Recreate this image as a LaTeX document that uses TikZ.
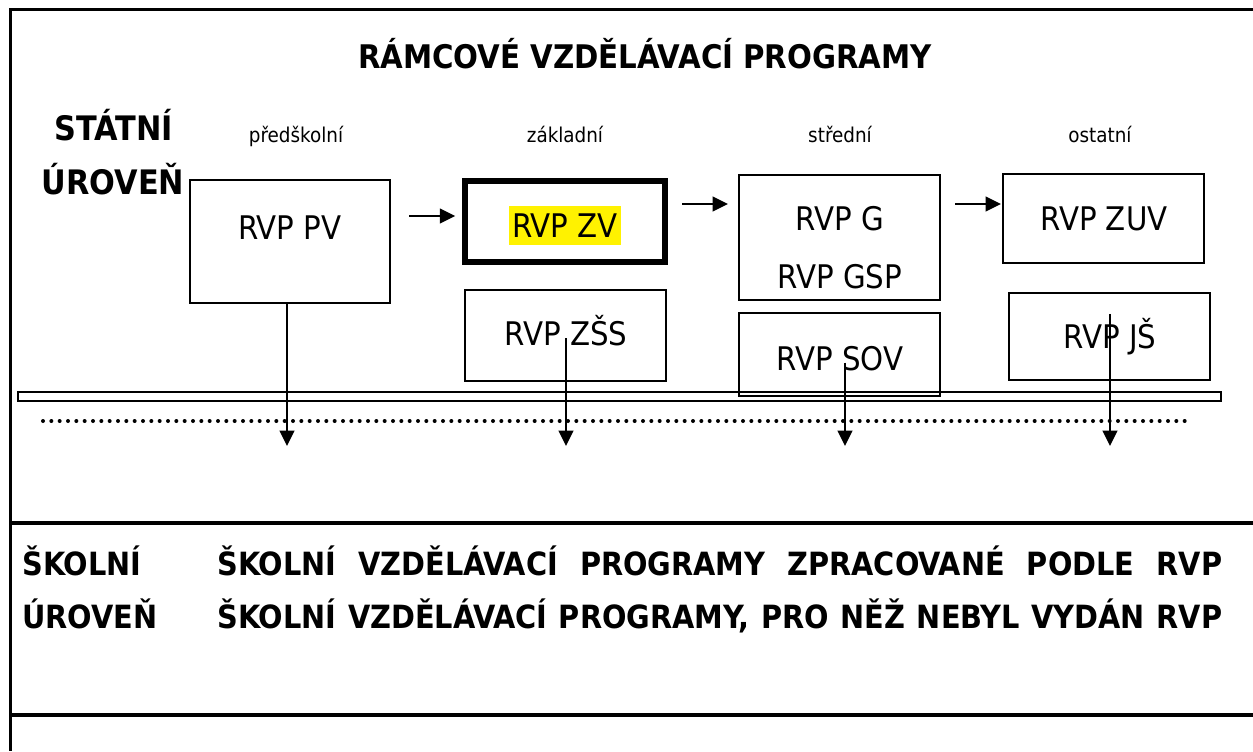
\documentclass[tikz,border=0pt]{standalone}
\usepackage{fontspec}
\setmainfont{DejaVu Sans Condensed}
\usetikzlibrary{arrows.meta}
\begin{document}
\begin{tikzpicture}[x=0.75pt,y=-0.75pt,
  box/.style={draw, line width=1.5pt, inner sep=0pt},
  thickbox/.style={draw, line width=4.1pt, inner sep=0pt},
  txt/.style={inner sep=0pt, text height=17.8pt, text depth=0pt, font=\fontsize{24.4}{28}\selectfont},
  sub/.style={inner sep=0pt, text height=11.1pt, text depth=0pt, font=\fontsize{15.3}{18}\selectfont},
  head/.style={inner sep=0pt, text height=17.5pt, text depth=0pt, font=\bfseries\fontsize{24}{28}\selectfont},
  arr/.style={line width=1.5pt, -{Triangle[length=11.5pt,width=11pt]}},
  frame/.style={line width=2.25pt},
  sep/.style={line width=3pt},
  dots/.style={line width=3pt, line cap=round, dash pattern=on 0pt off 6.25pt}
]
\useasboundingbox (0,0) rectangle (1253,751);
% frame
\draw[frame] (1253,9) -- (10,9) -- (10,751);
\draw[sep] (10,523) -- (1253,523);
\draw[sep] (10,715) -- (1253,715);
% headings
\node[head, font=\bfseries\fontsize{24.4}{28}\selectfont] (title) at (645,57) {RÁMCOVÉ VZDĚLÁVACÍ PROGRAMY};
\node[head, font=\bfseries\fontsize{25.3}{28}\selectfont, text height=18.5pt] (st1) at (114,128.5) {STÁTNÍ};
\node[head, font=\bfseries\fontsize{25.3}{28}\selectfont, text height=18.5pt] (st2) at (113,182) {ÚROVEŇ};
\node[sub] (l1) at (296,135) {předškolní};
\node[sub] (l2) at (565,135) {základní};
\node[sub] (l3) at (840,135) {střední};
\node[sub] (l4) at (1100,135) {ostatní};
% boxes
\node[box, minimum width={200*0.75pt}, minimum height={123*0.75pt}] (pv) at (290,241.5) {};
\node[txt] (pvt) at (290,228) {RVP PV};
\node[thickbox, minimum width={200*0.75pt}, minimum height={81*0.75pt}] (zv) at (565,221.5) {};
\node[txt, fill=yellow, inner xsep=2.5pt, inner ysep=5.9pt] (zvt) at (565,225.5) {RVP ZV};
\node[box, minimum width={201*0.75pt}, minimum height={91*0.75pt}] (zss) at (565.5,335.5) {};
\node[txt] (zsst) at (566,334) {RVP ZŠS};
\node[box, minimum width={201*0.75pt}, minimum height={125*0.75pt}] (g) at (839.5,237.5) {};
\node[txt] (gt1) at (840,218.5) {RVP G};
\node[txt] (gt2) at (840,277) {RVP GSP};
\node[box, minimum width={201*0.75pt}, minimum height={83*0.75pt}] (sov) at (839.5,354.5) {};
\node[txt] (sovt) at (840,358.5) {RVP SOV};
\node[box, minimum width={201*0.75pt}, minimum height={89*0.75pt}] (zuv) at (1103.5,218.5) {};
\node[txt] (zuvt) at (1104,218.5) {RVP ZUV};
\node[box, minimum width={201*0.75pt}, minimum height={87*0.75pt}] (js) at (1109.5,336.5) {};
\node[txt] (jst) at (1110,337) {RVP JŠ};
% bar and dotted line
\node[box, minimum width={1203*0.75pt}, minimum height={9*0.75pt}] (bar) at (619.5,396.5) {};
\coordinate (d1) at (43,421);
\coordinate (d2) at (1190,421);
\draw[dots] (d1) -- (d2);
% horizontal arrows
\coordinate (a1) at (409,216);
\coordinate (a2) at (682,204);
\coordinate (a3) at (955,204);
\draw[arr, shorten >=5.25pt] (a1) -- (a1 -| zv.west);
\draw[arr, shorten >=7.5pt] (a2) -- (a2 -| g.west);
\draw[arr, shorten >=0.75pt] (a3) -- (a3 -| zuv.west);
% vertical arrows
\coordinate (e1) at (287,446);
\coordinate (e2) at (566,446);
\coordinate (e3) at (845,446);
\coordinate (e4) at (1110,446);
\draw[arr] (pv.south -| e1) -- (e1);
\draw[arr] ([yshift=-3pt]zsst.center -| e2) -- (e2);
\draw[arr] ([yshift=-3pt]sovt.center -| e3) -- (e3);
\draw[arr] ([yshift=8.25pt]jst.north -| e4) -- (e4);
% school level
\node[head, anchor=west] (sk1) at (22,563.5) {ŠKOLNÍ};
\node[head, anchor=west] (sk2) at (22,617) {ÚROVEŇ};
\node[head, anchor=west] (sv1) at (217,563.5) {\makebox[753.75pt][s]{ŠKOLNÍ VZDĚLÁVACÍ PROGRAMY ZPRACOVANÉ PODLE RVP}};
\node[head, anchor=west] (sv2) at (217,617) {\makebox[753.75pt][s]{ŠKOLNÍ VZDĚLÁVACÍ PROGRAMY, PRO NĚŽ NEBYL VYDÁN RVP}};
\end{tikzpicture}
\end{document}
